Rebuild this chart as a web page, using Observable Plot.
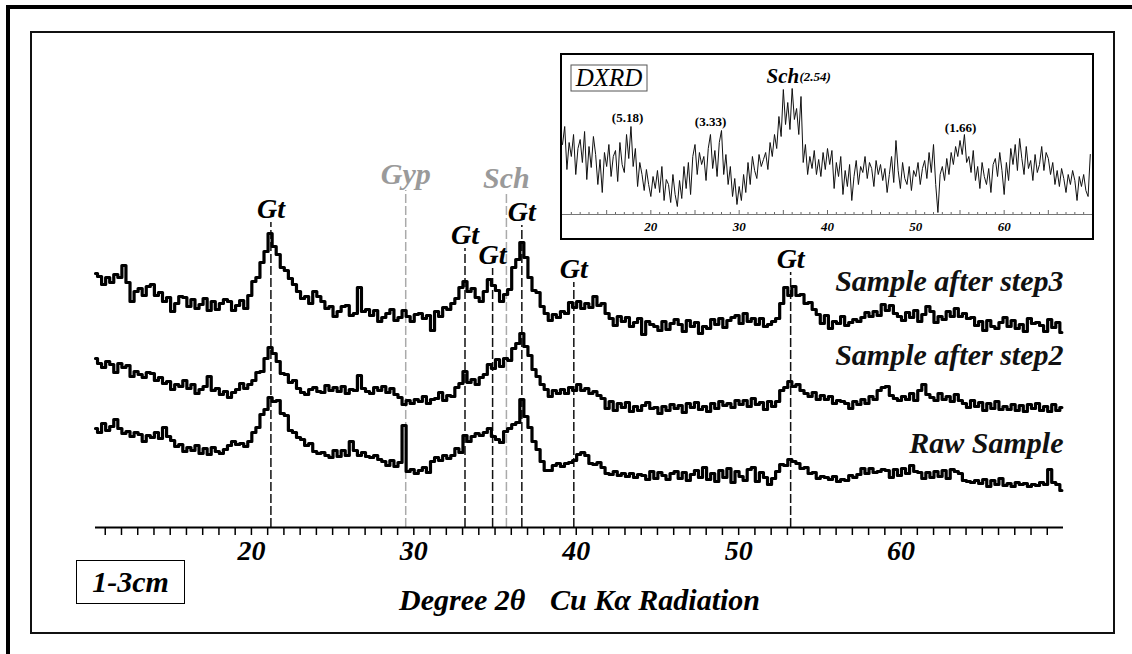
<!DOCTYPE html>
<html><head><meta charset="utf-8">
<script src="https://cdn.jsdelivr.net/npm/d3@7"></script>
<script src="https://cdn.jsdelivr.net/npm/@observablehq/plot@0.6"></script>
<style>
html,body{margin:0;padding:0;background:#fff;overflow:hidden;}
#wrap{position:relative;width:1132px;height:654px;overflow:hidden;font-family:"Liberation Serif","Times New Roman",serif;}
.abs{position:absolute;box-sizing:border-box;}
</style></head><body><div id="wrap"></div>
<script>
// ---------------- data (intensity in arbitrary units, offset traces) ----------------
const scanStart = 10.4, scanStep = 0.25;           // main pattern 2θ grid
const step3 = [
254,251,243,250, 245,253,250,262, 245,226,236,239, 232,241,243,232, 235,226,230,216,
224,231,230,221, 228,219,223,229, 217,226,218,224, 228,226,217,222, 227,219,232,246,
250,265,276,294, 281,273,260,257, 249,243,236,229, 231,224,236,231, 226,219,221,211,
216,221,222,212, 214,240,216,218, 212,217,206,210, 214,218,207,210, 217,211,206,213,
214,209,212,197, 216,211,220,218, 224,229,240,246, 236,239,230,226, 236,248,242,237,
226,233,238,260, 268,285,270,250, 237,235,221,214, 207,213,210,216, 214,225,220,226,
219,224,220,231, 222,224,214,209, 202,211,206,210, 201,205,209,193, 206,203,201,197,
206,198,204,208, 203,196,207,201, 205,194,201,199, 208,203,209,200, 207,210,212,204,
214,206,209,203, 209,201,203,206, 209,224,240,232, 241,232,233,224, 225,218,213,204,
212,199,206,204, 211,202,205,208, 206,210,215,211, 216,212,223,217, 222,214,211,207,
215,210,217,206, 213,221,216,205, 211,208,216,211, 219,211,214,209, 210,202,206,197,
207,201,199,205, 210,201,207,199, 203,196,209,204, 205,202,196,208, 200,205,195];
const step2 = [
169,164,160,166, 163,155,164,160, 162,151,156,153, 150,155,154,147, 150,144,146,138,
143,141,147,139, 143,134,138,141, 151,137,139,133, 136,130,135,138, 144,139,143,147,
155,156,169,180, 174,166,154,153, 145,147,139,135, 133,138,140,136, 135,142,137,140,
136,141,134,138, 137,152,139,136, 134,140,137,141, 135,139,133,130, 123,127,124,128,
126,131,124,128, 129,135,127,132, 131,140,144,156, 145,148,143,150, 153,163,159,168,
161,169,167,179, 184,194,181,172, 158,151,143,138, 131,137,134,138, 134,140,137,143,
137,139,134,136, 132,129,119,126, 117,124,120,125, 116,121,117,122, 125,119,120,114,
121,117,123,119, 122,115,124,120, 125,118,121,116, 124,119,126,122, 124,120,127,123,
127,121,129,123, 125,118,126,121, 126,137,140,146, 141,143,137,134, 131,135,128,132,
128,131,124,127, 126,124,119,126, 123,128,124,131, 128,137,140,141, 132,129,127,131,
128,134,127,137, 143,133,130,127, 134,128,131,126, 133,127,124,120, 127,121,125,117,
124,119,126,118, 121,118,123,117, 122,116,123,119, 124,117,121,116, 123,117,120];
const raw = [
99,95,104,97, 101,108,99,94, 96,91,95,93, 86,92,90,95, 89,100,91,87,
81,83,76,80, 77,82,74,79, 73,80,76,74, 78,82,86,83, 84,81,86,95,
100,113,118,130, 126,127,114,112, 97,95,90,88, 82,84,76,74, 75,72,70,77,
71,77,72,86, 77,72,75,71, 70,72,68,66, 62,67,61,65, 102,56,58,54,
57,60,55,66, 70,67,72,69, 72,79,75,92, 86,91,94,92, 95,99,91,88,
85,96,99,103, 105,128,111,100, 86,78,66,57, 57,62,64,61, 64,65,67,73,
75,72,64,63, 65,60,54,53, 56,52,54,51, 54,50,53,52, 48,56,49,55,
52,48,54,56, 49,55,47,53, 57,50,60,48, 54,46,57,50, 59,45,56,51,
47,58,60,46, 55,50,43,49, 56,63,62,68, 66,64,59,60, 54,55,49,51,
50,48,51,46, 48,47,52,50, 53,59,54,59, 55,56,58,57, 50,58,52,59,
54,62,56,55, 49,55,50,56, 51,57,49,58, 56,54,47,46, 45,47,44,48,
41,47,43,49, 42,44,41,45, 43,44,41,43, 42,45,43,58, 45,43,37];

const dxrdStart = 10, dxrdStep = 0.25;             // inset (difference XRD) grid
const dxrd = [
70,88,45,72, 58,80,40,66, 75,52,83,35, 68,47,78,60, 30,55,22,62,
48,70,38,58, 64,33,72,50, 42,80,56,88, 48,66,28,52, 40,24,45,30,
18,38,26,44, 22,48,14,35, 30,12,40,20, 8,34,16,48, 26,52,20,58,
70,40,62,50, 58,34,66,80, 46,64,38,72, 84,40,60,30, 48,18,36,10,
28,14,40,22, 52,30,58,44, 36,60,48,55, 62,45,72,58, 80,66,98,78,
125,90,112,85, 126,95,106,80, 118,52,70,40, 58,46,64,40, 55,38,62,45,
66,50,64,26, 52,38,58,20, 44,28,50,14, 38,54,30,48, 42,58,36,52,
46,28,54,40, 50,34,46,22, 40,58,32,74, 44,26,52,36, 30,48,24,44,
38,52,30,46, 54,36,62,42, 70,30,2,40, 48,34,56,40, 62,50,68,58,
74,60,80,52, 58,42,64,34, 48,26,52,38, 30,46,22,50, 56,38,62,44,
20,52,34,66, 50,70,44,76, 56,40,68,46, 54,34,60,42, 50,68,44,62,
56,40,52,30, 44,28,46,36, 22,40,30,44, 34,14,38,28, 40,24,18,60];

const seriesNames = ["Sample after step3", "Sample after step2", "Raw Sample"];
const seriesLabelY = [237, 163, 75];
const gtPeaks = [21.2, 33.15, 34.85, 36.65, 39.85, 53.2];
const gtLabelY = [310, 284, 264, 307, 250, 260];
const otherPhases = ["Gyp", "Sch"];
const otherPeaks = [29.5, 35.7];
const otherLabelY = [344, 340];
const xTickLabels = [20, 30, 40, 50, 60];
const insetTickLabels = [20, 30, 40, 50, 60];
const insetPeakTexts = ["(5.18)", "(3.33)", "(1.66)"];
const insetPeakX = [17.36, 26.76, 55.06];
const insetPeakY = [93, 89, 83];

// ---------------- build tables ----------------
const toRows = (arr, s0, ds) => arr.map((v, i) => ({x: s0 + ds * i, y: v}));
const traces = [step3, step2, raw].map(a => toRows(a, scanStart, scanStep));
const dxrdRows = toRows(dxrd, dxrdStart, dxrdStep);
const FF = '"Liberation Serif","Times New Roman",serif';
const T = {fontFamily: FF, fontStyle: "italic", fontWeight: "bold", lineAnchor: "bottom"};

const wrap = document.getElementById("wrap");
function box(l, t, w, h, css) {
  const d = document.createElement("div");
  d.className = "abs";
  d.style.cssText = `left:${l}px;top:${t}px;width:${w}px;height:${h}px;` + css;
  wrap.appendChild(d);
  return d;
}
box(6, 5, 1300, 800, "border:4px solid #000;");
box(30, 31, 1085, 603, "border:2px solid #111;");

const main = Plot.plot({
  width: 1132, height: 654,
  marginLeft: 95, marginRight: 69, marginTop: 127, marginBottom: 127,
  x: {domain: [10.4, 70], axis: null},
  y: {domain: [0, 400], axis: null},
  style: {background: "transparent", overflow: "visible", fontFamily: FF},
  marks: [
    Plot.ruleX(gtPeaks, {x: d => d, y1: 0, y2: (d, i) => gtLabelY[i] - 5, stroke: "#111", strokeWidth: 1.5, strokeDasharray: "9,3"}),
    Plot.ruleX(otherPeaks, {x: d => d, y1: 0, y2: (d, i) => otherLabelY[i] - 7, stroke: "#aaa", strokeWidth: 1.5, strokeDasharray: "9,3"}),
    ...traces.map(t => Plot.line(t, {x: "x", y: "y", curve: "step", stroke: "#000", strokeWidth: 3.2})),
    Plot.ruleY([0], {stroke: "#000", strokeWidth: 2}),
    Plot.ruleX(d3.range(11, 70), {x: d => d, y1: 0, y2: -8, stroke: "#000", strokeWidth: 1.5}),
    Plot.text(xTickLabels, {...T, x: d => d, y: -32, text: d => String(d), fontSize: 28, fill: "#000"}),
    Plot.text(gtPeaks, {...T, x: d => d, y: (d, i) => gtLabelY[i], text: () => "Gt", fontSize: 28, fill: "#000"}),
    Plot.text(otherPeaks, {...T, x: d => d, y: (d, i) => otherLabelY[i], text: (d, i) => otherPhases[i], fontSize: 30, fill: "#9a9a9a"}),
    Plot.text(seriesNames, {...T, x: 70, y: (d, i) => seriesLabelY[i], text: d => d, textAnchor: "end", fontSize: 30, fill: "#111"})
  ]
});
main.style.position = "absolute"; main.style.left = "0px"; main.style.top = "0px";
wrap.appendChild(main);
const ms = d3.select(main);
const ttl = ms.append("text").attr("y", 610).attr("text-anchor", "start").attr("font-family", FF).attr("font-size", 30)
  .attr("font-style", "italic").attr("font-weight", "bold").attr("fill", "#000");
ttl.append("tspan").attr("x", 399).text("Degree 2θ");
ttl.append("tspan").attr("x", 550).text("Cu Kα Radiation");

const cm = box(76, 560, 109, 44, `border:1.5px solid #000;display:flex;align-items:center;justify-content:center;font:italic bold 30px ${FF};`);
cm.textContent = "1-3cm";

// ---------------- inset ----------------
box(560, 53, 534, 187, "border:2px solid #000;background:#fff;");
const inset = Plot.plot({
  width: 530, height: 183,
  marginLeft: 0, marginRight: 0, marginTop: 0, marginBottom: 24,
  x: {domain: [10, 70], axis: null},
  y: {domain: [0, 159], axis: null},
  style: {background: "transparent", overflow: "visible", fontFamily: FF},
  marks: [
    Plot.ruleY([0], {stroke: "#777", strokeWidth: 1}),
    Plot.ruleX(d3.range(11, 70), {x: d => d, y1: 0, y2: d => d % 5 === 0 ? 4 : 2, stroke: "#666", strokeWidth: 1}),
    Plot.line(dxrdRows, {x: "x", y: "y", stroke: "#111", strokeWidth: 1}),
    Plot.text(insetTickLabels, {...T, x: d => d, y: -16, text: d => String(d), fontSize: 13, fill: "#000"}),
    Plot.text(insetPeakTexts, {...T, fontStyle: "normal", x: (d, i) => insetPeakX[i], y: (d, i) => insetPeakY[i], text: d => d, fontSize: 13, fill: "#000"}),
    Plot.text(["Sch"], {...T, x: 33.1, y: 132, text: d => d, textAnchor: "start", fontSize: 21, fill: "#000"}),
    Plot.text(["(2.54)"], {...T, x: 36.83, y: 134, text: d => d, textAnchor: "start", fontSize: 13, fill: "#000"})
  ]
});
inset.style.position = "absolute"; inset.style.left = "562px"; inset.style.top = "55px";
wrap.appendChild(inset);
const is = d3.select(inset);
is.append("rect").attr("x", 9).attr("y", 10).attr("width", 76).attr("height", 26)
  .attr("fill", "#fff").attr("stroke", "#555").attr("stroke-width", 1);
is.append("text").attr("x", 47).attr("y", 31).attr("text-anchor", "middle")
  .attr("font-family", FF).attr("font-size", 25).attr("font-style", "italic").attr("fill", "#000").text("DXRD");
</script></body></html>
